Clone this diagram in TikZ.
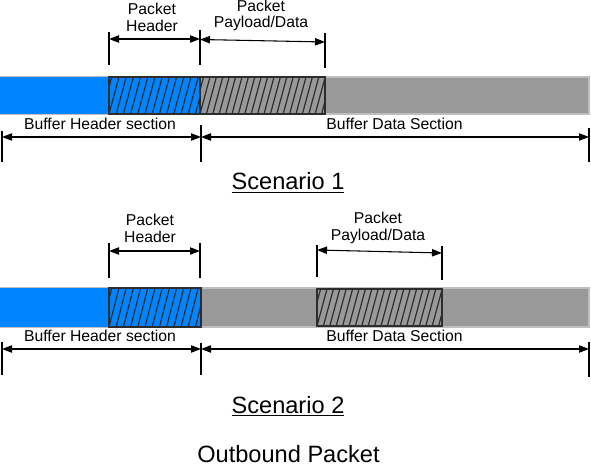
\documentclass[tikz,border=0pt]{standalone}
\usepackage{fontspec}
\setmainfont{Liberation Sans}
\usetikzlibrary{arrows.meta}
\definecolor{bufblue}{RGB}{0,132,255}
\definecolor{bufgray}{RGB}{153,153,153}
\definecolor{bufedge}{RGB}{190,190,190}
\definecolor{hatchc}{RGB}{45,45,45}
\newcommand\myhatch[6]{%
  \fill[#5] (#1,#2) rectangle (#3,#4);
  \begin{scope}
    \clip (#1,#2) rectangle (#3,#4);
    \foreach \i in {-2,...,24} \draw[hatchc, line width=0.9pt] (#1+\i*#6,#4) -- (#1+\i*#6+10,#2);
  \end{scope}
  \draw[hatchc, line width=1.3pt] (#1,#2) rectangle (#3,#4);
}
\begin{document}
\begin{tikzpicture}[x=0.75pt,y=-0.75pt,
  lbl/.style={font=\fontsize{11.8}{14}\selectfont, inner sep=0pt, anchor=base},
  ttl/.style={font=\fontsize{17.7}{21}\selectfont, inner sep=0pt, anchor=base},
  dimline/.style={line width=0.8pt, {Triangle[length=7.5pt,width=5.5pt]}-{Triangle[length=7.5pt,width=5.5pt]}},
  tickline/.style={line width=1pt},
  bar/.style={fill=bufgray, draw=bufedge, line width=0.8pt}]
\useasboundingbox (0,0) rectangle (591,473);

% ---------------- Scenario 1 ----------------
\draw[bar] (0,77) rectangle (589,114);
\fill[bufblue] (0,77) rectangle (109,114);
\myhatch{109}{77}{200}{114}{bufblue}{7.2}
\myhatch{200}{77}{325}{114}{bufgray}{6.4}

\node[lbl] (ph1a) at (152,15) {Packet};
\node[lbl] (ph1b) at (152,32) {Header};
\node[lbl] (pp1a) at (261,12) {Packet};
\node[lbl] (pp1b) at (261,28) {Payload/Data};

\coordinate (t1a1) at (109,32); \coordinate (t1a2) at (109,65);
\coordinate (t1b1) at (200,30); \coordinate (t1b2) at (200,65);
\coordinate (t1c1) at (325,33); \coordinate (t1c2) at (325,68);
\draw[tickline] (t1a1) -- (t1a2);
\draw[tickline] (t1b1) -- (t1b2);
\draw[tickline] (t1c1) -- (t1c2);
\coordinate (h1L) at (109,39); \coordinate (h1R) at (200,39);
\coordinate (p1L) at (200,39.5); \coordinate (p1R) at (325,42);
\draw[dimline] (h1L) -- (h1R);
\draw[dimline] (p1L) -- (p1R);

\node[lbl] (bh1) at (100,130) {Buffer Header section};
\node[lbl] (bd1) at (394.5,130) {Buffer Data Section};
\coordinate (b1a1) at (2,131); \coordinate (b1a2) at (2,162);
\coordinate (b1b1) at (201,125); \coordinate (b1b2) at (201,162);
\coordinate (b1c1) at (589,128); \coordinate (b1c2) at (589,162);
\draw[tickline] (b1a1) -- (b1a2);
\draw[tickline] (b1b1) -- (b1b2);
\draw[tickline] (b1c1) -- (b1c2);
\coordinate (d1L) at (2,137); \coordinate (d1M) at (201,137); \coordinate (d1R) at (589,137);
\draw[dimline] (d1L) -- (d1M);
\draw[dimline] (d1M) -- (d1R);

\node[ttl] (sc1) at (288,190) {\underline{Scenario 1}};

% ---------------- Scenario 2 ----------------
\draw[bar] (0,288) rectangle (589,327);
\fill[bufblue] (0,288) rectangle (109,327);
\myhatch{109}{288}{201}{327}{bufblue}{7.2}
\myhatch{317}{289}{442}{326}{bufgray}{6.4}

\node[lbl] (ph2a) at (150,226) {Packet};
\node[lbl] (ph2b) at (150,243) {Header};
\node[lbl] (pp2a) at (378,224) {Packet};
\node[lbl] (pp2b) at (378,241) {Payload/Data};

\coordinate (t2a1) at (109,243); \coordinate (t2a2) at (109,278);
\coordinate (t2b1) at (200,243); \coordinate (t2b2) at (200,278);
\coordinate (t2c1) at (317,245); \coordinate (t2c2) at (317,277);
\coordinate (t2d1) at (442,246); \coordinate (t2d2) at (442,280);
\draw[tickline] (t2a1) -- (t2a2);
\draw[tickline] (t2b1) -- (t2b2);
\draw[tickline] (t2c1) -- (t2c2);
\draw[tickline] (t2d1) -- (t2d2);
\coordinate (h2L) at (109,251); \coordinate (h2R) at (200,251);
\coordinate (p2L) at (317,250); \coordinate (p2R) at (442,253);
\draw[dimline] (h2L) -- (h2R);
\draw[dimline] (p2L) -- (p2R);

\node[lbl] (bh2) at (100,341) {Buffer Header section};
\node[lbl] (bd2) at (394.5,341) {Buffer Data Section};
\coordinate (b2a1) at (2,342); \coordinate (b2a2) at (2,375);
\coordinate (b2b1) at (201,343); \coordinate (b2b2) at (201,375);
\coordinate (b2c1) at (589,342); \coordinate (b2c2) at (589,377);
\draw[tickline] (b2a1) -- (b2a2);
\draw[tickline] (b2b1) -- (b2b2);
\draw[tickline] (b2c1) -- (b2c2);
\coordinate (d2L) at (2,349); \coordinate (d2M) at (201,349); \coordinate (d2R) at (589,349);
\draw[dimline] (d2L) -- (d2M);
\draw[dimline] (d2M) -- (d2R);

\node[ttl] (sc2) at (288,413) {\underline{Scenario 2}};
\node[ttl] (outb) at (288.5,462) {Outbound Packet};
\end{tikzpicture}
\end{document}
